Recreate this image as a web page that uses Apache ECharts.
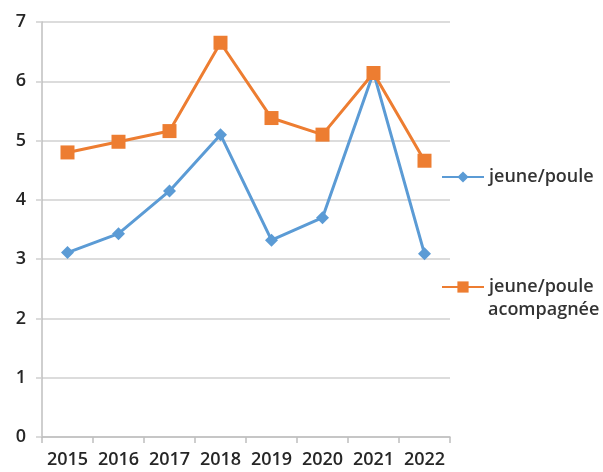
<!DOCTYPE html>
<html><head><meta charset="utf-8">
<script src="https://cdn.jsdelivr.net/npm/echarts@6/dist/echarts.min.js"></script>
<style>html,body{margin:0;padding:0;background:#fff}#c{width:603px;height:472px}</style>
</head><body><div id="c"></div>
<script>
const categories = ['2015','2016','2017','2018','2019','2020','2021','2022'];
const jeunePoule = [3.11, 3.43, 4.15, 5.10, 3.32, 3.70, 6.15, 3.09];
const jeunePouleAcc = [4.80, 4.98, 5.16, 6.65, 5.38, 5.10, 6.14, 4.66];
const yTicks = {min: 0, max: 7, interval: 1};
const name1 = 'jeune/poule';
const name2 = 'jeune/poule acompagnée';
const legendLine1 = 'jeune/poule';
const legendLine2 = 'acompagnée';

const chart = echarts.init(document.getElementById('c'));
const font = '"Open Sans", sans-serif';
const legendText = {fontFamily: font, fontSize: 18, fontWeight: 600, color: '#333'};
chart.setOption({
  animation: false,
  color: ['#5B9BD5', '#ED7D31'],
  grid: {left: 42, right: 153, top: 22, bottom: 35, containLabel: false},
  legend: [
    {data: [name1], orient: 'vertical', left: 436, top: 163, itemWidth: 42, itemHeight: 14,
     textStyle: legendText},
    {data: [name2], orient: 'vertical', left: 436, top: 273, itemWidth: 42, itemHeight: 14,
     formatter: () => legendLine1, textStyle: legendText}
  ],
  graphic: [
    {type: 'text', left: 488, top: 301, style: {text: legendLine2, font: '600 18px "Open Sans", sans-serif', fill: '#333'}}
  ],
  xAxis: {
    type: 'category', data: categories, boundaryGap: true,
    axisLine: {lineStyle: {color: '#bfbfbf', width: 1.5}},
    axisTick: {show: true, length: 6, lineStyle: {color: '#bfbfbf', width: 1.5}},
    axisLabel: {fontFamily: font, fontSize: 18, fontWeight: 600, color: '#262626', margin: 14, interval: 0}
  },
  yAxis: {
    type: 'value', min: yTicks.min, max: yTicks.max, interval: yTicks.interval,
    axisLine: {show: true, lineStyle: {color: '#bfbfbf', width: 1.5}},
    axisTick: {show: true, length: 6, lineStyle: {color: '#d0d0d0', width: 1.5}},
    splitLine: {lineStyle: {color: '#d0d0d0', width: 1.5}},
    axisLabel: {fontFamily: font, fontSize: 18, fontWeight: 600, color: '#262626', margin: 16}
  },
  series: [
    {name: name1, type: 'line', data: jeunePoule, symbol: 'diamond', symbolSize: 13,
     lineStyle: {width: 3}, itemStyle: {color: '#5B9BD5'}},
    {name: name2, type: 'line', data: jeunePouleAcc, symbol: 'rect', symbolSize: 14,
     lineStyle: {width: 3}, itemStyle: {color: '#ED7D31'}}
  ]
});
</script></body></html>
